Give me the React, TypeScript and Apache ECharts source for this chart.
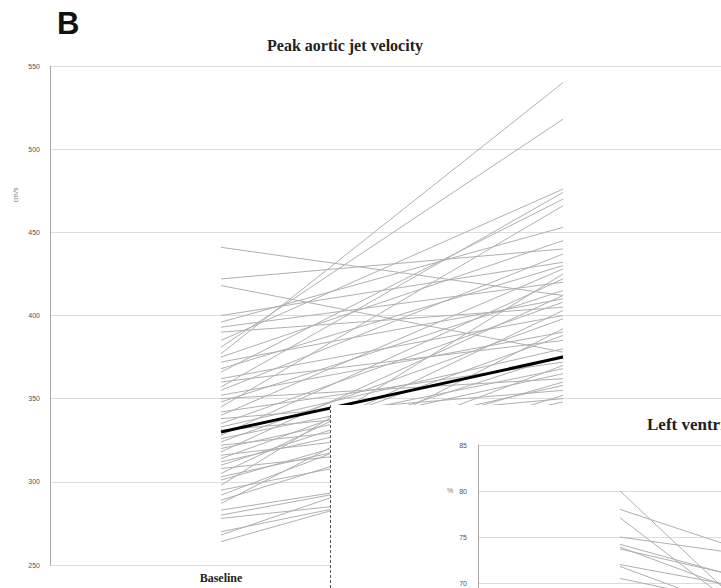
import React, { useEffect, useRef } from "react";
import * as echarts from "echarts";

const categories = ["Baseline", "Follow-up"];
const yMin = 250;
const yMax = 550;
const yStep = 50;

const baselineValues = [
  441, 422, 418, 400, 396, 393, 390, 385, 381, 377,
  375, 372, 368, 366, 362, 360, 357, 355, 352, 350,
  348, 345, 342, 340, 338, 335, 333, 331, 328, 326,
  324, 322, 320, 318, 316, 314, 312, 310, 308, 305,
  303, 301, 298, 295, 292, 289, 287, 283, 280, 278,
  270, 268, 264,
];
const followUpValues = [
  412, 440, 378, 432, 453, 420, 405, 476, 518, 540,
  445, 410, 430, 470, 400, 385, 474, 437, 390, 362,
  415, 466, 372, 428, 355, 408, 380, 350, 422, 368,
  398, 345, 365, 412, 340, 388, 358, 376, 330, 403,
  348, 360, 425, 335, 370, 352, 392, 315, 318, 300,
  312, 338, 322,
];
const meanValues = [330, 375];

const insetCategories = ["Baseline", "Follow-up"];
const insetMin = 40;
const insetMax = 85;
const insetStep = 5;
const insetLowestShownTick = 70;
const insetBaseline = [80, 78, 77.1, 75, 74.2, 73.9, 73.7, 72, 71.8, 70.5];
const insetFollowUp = [51, 67.8, 53.5, 70.7, 65.7, 62.5, 66.6, 66.3, 60.4, 64];

const serif = "'Liberation Serif', 'Times New Roman', serif";
const sans = "'Liberation Sans', Arial, sans-serif";

function MainChart() {
  const ref = useRef<HTMLDivElement>(null);
  useEffect(() => {
    if (!ref.current) return;
    const chart = echarts.init(ref.current, undefined, { renderer: "svg" });
    const series: any[] = baselineValues.map((b, i) => ({
      type: "line",
      data: [b, followUpValues[i]],
      symbol: "none",
      silent: true,
      lineStyle: { color: "#b0b0b0", width: 1 },
      z: 2,
    }));
    series.push({
      type: "line",
      data: meanValues,
      symbol: "none",
      silent: true,
      lineStyle: { color: "#000", width: 3 },
      z: 5,
    });
    chart.setOption({
      animation: false,
      backgroundColor: "#fff",
      grid: { left: 50, top: 66, width: 684, height: 499, outerBoundsMode: "none" },
      xAxis: {
        type: "category",
        data: categories,
        boundaryGap: true,
        axisLine: { show: false },
        axisTick: { show: false },
        axisLabel: {
          fontFamily: serif,
          fontWeight: "bold",
          fontSize: 12,
          color: "#222",
          margin: 7,
        },
      },
      yAxis: {
        type: "value",
        min: yMin,
        max: yMax,
        interval: yStep,
        axisLine: { show: true, lineStyle: { color: "#a8a8a8", width: 1 } },
        axisTick: { show: false },
        axisLabel: { fontSize: 7, color: "#555", margin: 10, fontFamily: sans },
        splitLine: { lineStyle: { color: "#dcdcdc", width: 1 } },
      },
      graphic: [
        {
          type: "text",
          x: 57,
          y: 8,
          style: {
            text: "B",
            fontFamily: sans,
            fontWeight: "bold",
            fontSize: 31,
            fill: "#111",
            textVerticalAlign: "top",
          },
        },
        {
          type: "text",
          x: 345,
          y: 37,
          style: {
            text: "Peak aortic jet velocity",
            fontFamily: serif,
            fontWeight: "bold",
            fontSize: 16,
            fill: "#222",
            textAlign: "center",
            textVerticalAlign: "top",
          },
        },
        {
          type: "text",
          x: 15,
          y: 195,
          rotation: Math.PI / 2,
          style: {
            text: "cm/s",
            fontFamily: sans,
            fontSize: 7,
            fill: "#777",
            textAlign: "center",
            textVerticalAlign: "middle",
          },
        },
      ],
      series,
    });
    return () => chart.dispose();
  }, []);
  return <div ref={ref} style={{ width: 721, height: 588 }} />;
}

function InsetChart() {
  const ref = useRef<HTMLDivElement>(null);
  useEffect(() => {
    if (!ref.current) return;
    const chart = echarts.init(ref.current, undefined, { renderer: "svg" });
    const series: any[] = insetBaseline.map((b, i) => ({
      type: "line",
      data: [b, insetFollowUp[i]],
      symbol: "none",
      silent: true,
      lineStyle: { color: "#b0b0b0", width: 1 },
    }));
    chart.setOption({
      animation: false,
      backgroundColor: "#fff",
      grid: { left: 147, top: 40, width: 568, height: 414, outerBoundsMode: "none" },
      xAxis: {
        type: "category",
        data: insetCategories,
        boundaryGap: true,
        axisLine: { show: false },
        axisTick: { show: false },
        axisLabel: { show: false },
      },
      yAxis: {
        type: "value",
        min: insetMin,
        max: insetMax,
        interval: insetStep,
        axisLine: { show: true, lineStyle: { color: "#a8a8a8", width: 1 } },
        axisTick: { show: false },
        axisLabel: {
          fontSize: 7,
          color: "#555",
          margin: 11,
          fontFamily: sans,
          formatter: (v: number) => (v >= insetLowestShownTick ? String(v) : ""),
        },
        splitLine: { lineStyle: { color: "#dcdcdc", width: 1 } },
      },
      graphic: [
        {
          type: "text",
          x: 316,
          y: 11,
          style: {
            text: "Left ventricular ejection fraction",
            fontFamily: serif,
            fontWeight: "bold",
            fontSize: 17,
            fill: "#222",
            textVerticalAlign: "top",
          },
        },
        {
          type: "text",
          x: 119,
          y: 85,
          style: {
            text: "%",
            fontFamily: sans,
            fontSize: 7,
            fill: "#777",
            textAlign: "center",
            textVerticalAlign: "middle",
          },
        },
      ],
      series,
    });
    return () => chart.dispose();
  }, []);
  return <div ref={ref} style={{ width: 720, height: 183 }} />;
}

export default function App() {
  return (
    <div style={{ position: "fixed", left: 0, top: 0, width: 721, height: 588, overflow: "hidden", background: "#fff" }}>
      <MainChart />
      <div
        style={{
          position: "absolute",
          left: 330,
          top: 405,
          width: 391,
          height: 183,
          overflow: "hidden",
          background: "#fff",
          borderLeft: "1px dashed #555",
          boxSizing: "border-box",
        }}
      >
        <InsetChart />
      </div>
    </div>
  );
}
